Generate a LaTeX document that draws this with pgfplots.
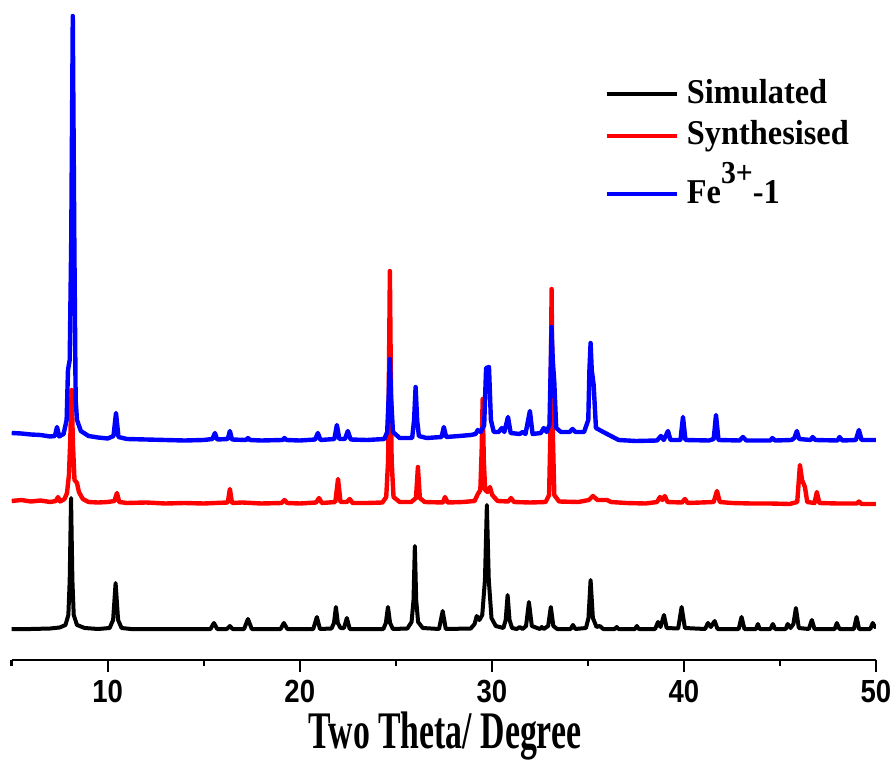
\documentclass[border=0pt]{standalone}
\usepackage{fontspec}
\usepackage{pgfplots}
\pgfplotsset{compat=1.18}
\setmainfont{Liberation Serif}
\newfontfamily\tickfont{Liberation Sans}[FakeStretch=0.86]
\newfontfamily\labfont{Liberation Serif}[FakeStretch=0.64]
\newfontfamily\legfont{Liberation Serif}[FakeStretch=0.93]
\definecolor{pblue}{RGB}{0,0,255}
\definecolor{pred}{RGB}{255,0,0}
\begin{document}
\begin{tikzpicture}
\useasboundingbox (-5.85pt,-53.5pt) rectangle (442.15pt,330pt);
\begin{axis}[
  scale only axis, width=432.15pt, height=330pt,
  xmin=5, xmax=50, ymin=0, ymax=660,
  axis x line*=bottom, axis y line=none,
  axis line style={-, line width=1.3pt, black},
  xtick={10,20,30,40,50}, minor xtick={5,15,25,35,45},
  tick align=outside, major tick length=6pt, minor tick length=3pt,
  every tick/.style={black, line width=1.2pt},
  /pgf/number format/assume math mode=true,
  xticklabel style={font=\tickfont\bfseries\fontsize{16}{16}\selectfont, inner sep=0pt, yshift=-4pt},
  xlabel={Two Theta/ Degree},
  xlabel style={at={(rel axis cs:0.5013,0)}, anchor=base, yshift=-44pt, inner sep=0pt, font=\labfont\bfseries\fontsize{26.4}{28}\selectfont},
  legend style={at={(rel axis cs:0.6864,0.880)}, anchor=north west, draw=none, fill=none, inner sep=0pt, outer sep=0pt,
    font=\legfont\bfseries\fontsize{17.4}{20}\selectfont,
    nodes={inner sep=0pt, text depth=4pt, anchor=base west}, row sep=4.6pt,
    /tikz/every odd column/.style={column sep=4pt}},
  legend cell align=left,
  legend image code/.code={\draw[#1, line width=2pt] (0pt,4.5pt) -- (35pt,4.5pt);},
  line join=round,
]
\addplot[black, line width=2pt] coordinates {
(5,31) (6,31) (7,31.5) (7.5,32.5) (7.8,35) (7.95,45) (8.02,80) (8.09,162) (8.16,80) (8.23,45) (8.4,35) (8.8,32) (9.5,31) (10.1,32) (10.28,40) (10.41,77) (10.54,40) (10.72,32) (11.2,31) (15.35,31) (15.53,37) (15.7,31) (16.2,31) (16.36,34) (16.5,31) (17.1,31) (17.3,41) (17.5,31) (19.0,31) (19.17,37) (19.35,31) (20.7,31) (20.89,43) (21.05,31) (21.65,31.5) (21.78,37) (21.88,53) (21.98,37) (22.12,32) (22.3,32) (22.45,42) (22.6,31) (24.35,31) (24.48,37) (24.59,53) (24.7,37) (24.85,31) (25.6,31.5) (25.82,38) (25.92,60) (25.99,114) (26.06,60) (26.16,38) (26.4,32) (27.25,31) (27.44,49) (27.6,31) (28.9,31.5) (29.1,36) (29.21,44) (29.35,40) (29.5,45) (29.64,80) (29.74,155) (29.84,80) (29.98,42) (30.2,34) (30.6,32) (30.72,40) (30.82,65) (30.92,40) (31.05,32) (31.3,31) (31.45,33) (31.6,31) (31.78,34) (31.93,58) (32.08,34) (32.5,31) (32.6,33) (32.7,31) (32.93,34) (33.07,53) (33.2,34) (33.4,31) (34.1,31) (34.22,35) (34.35,31) (34.9,32) (35.03,42) (35.14,80) (35.26,42) (35.45,33) (35.62,34) (35.8,31) (36.4,31) (36.5,33) (36.6,31) (37.45,31) (37.55,34) (37.65,31) (38.5,31) (38.65,38) (38.78,33) (38.96,45) (39.1,32) (39.7,31.5) (39.88,53) (40.05,32) (41.1,31) (41.25,37) (41.4,33) (41.6,39) (41.75,31) (42.85,31) (43.0,43) (43.15,31) (43.75,31) (43.85,36) (43.95,31) (44.5,31) (44.63,36) (44.75,31) (45.3,31) (45.4,36) (45.55,32) (45.7,36) (45.83,52) (45.98,32) (46.5,31) (46.66,40) (46.8,31) (47.85,31) (47.96,37) (48.1,31) (48.85,31) (48.99,43) (49.12,31) (49.7,31) (49.83,37) (49.95,33) (50,34)
};
\addlegendentry{Simulated}
\addplot[pred, line width=2.2pt] coordinates {
(5,159) (5.5,160) (6,158.5) (6.5,159.5) (7,158) (7.3,159) (7.41,163) (7.52,158.5) (7.75,161) (7.88,167) (7.98,185) (8.05,220) (8.12,270) (8.19,215) (8.27,180) (8.4,177) (8.5,168) (8.7,161) (9,158) (9.5,157.5) (10,158) (10.35,159) (10.48,167) (10.6,158) (11,157) (12,157.5) (13,156.5) (14,157) (15,156.5) (15.6,157) (16.25,157.5) (16.36,171) (16.47,157) (17,157.5) (18,156.5) (19.05,157) (19.2,160) (19.35,157) (20,156.5) (20.85,157.5) (21.0,162) (21.15,157) (21.85,158) (21.99,181) (22.12,158) (22.45,158) (22.6,161) (22.75,157) (23.5,157) (24.3,157.5) (24.5,163) (24.6,200) (24.69,389) (24.78,200) (24.88,163) (25.2,158) (25.8,158) (26.05,162) (26.15,193) (26.25,162) (26.5,158) (27.45,157.5) (27.56,163) (27.7,157.5) (28.5,158) (29.1,159) (29.27,166) (29.4,170) (29.47,210) (29.52,261) (29.58,200) (29.65,170) (29.78,168) (29.9,173) (30.02,165) (30.3,159) (30.85,158.5) (31.0,162) (31.15,158) (32,157.5) (32.8,158) (32.98,165) (33.05,230) (33.11,371) (33.17,230) (33.25,165) (33.5,158.5) (34.5,158) (35.05,160) (35.26,164) (35.5,160) (36.0,160) (36.2,158) (37,157) (38,156.5) (38.6,158) (38.75,163) (38.88,160) (39.0,164) (39.15,158) (39.9,157.5) (40.05,161) (40.2,157) (41.55,158) (41.72,169) (41.87,158) (42.5,157) (43.5,156.5) (44.5,156.5) (45.5,156) (45.9,158) (46.04,195) (46.15,180) (46.3,173) (46.42,158) (46.8,157) (46.92,168) (47.05,157) (48,156.5) (49.0,156.5) (49.11,158.5) (49.25,156) (50,156)
};
\addlegendentry{Synthesised}
\addplot[pblue, line width=2.2pt] coordinates {
(5,227) (5.5,226.5) (6,225.5) (6.5,225) (7,223.5) (7.25,224) (7.36,233) (7.47,223.5) (7.7,226) (7.86,240) (7.93,290) (8.02,300) (8.1,420) (8.18,644) (8.26,420) (8.33,260) (8.4,240) (8.6,229) (9,224) (9.5,222.5) (10.0,221.5) (10.3,224) (10.43,247) (10.56,223) (11,221) (12,220.5) (13,220) (14,219.5) (15,220) (15.45,221) (15.58,227) (15.7,220.5) (16.25,221) (16.36,229) (16.47,220.5) (17.2,220) (17.3,222) (17.4,220) (18,219.5) (19.1,220) (19.2,222) (19.3,220) (20,219.5) (20.8,220.5) (20.94,227) (21.08,220) (21.8,221) (21.93,235) (22.06,221) (22.35,221) (22.5,229) (22.65,220.5) (23.5,220) (24.4,221) (24.55,228) (24.62,260) (24.69,301) (24.76,260) (24.85,228) (25.2,222) (25.85,222) (25.95,240) (26.03,273) (26.11,240) (26.2,224) (26.6,222) (27.38,223) (27.5,233) (27.62,223) (28.3,224) (28.9,225) (29.15,226) (29.27,230) (29.42,228) (29.6,235) (29.7,292) (29.85,293) (29.95,240) (30.1,228) (30.35,228) (30.52,232) (30.65,228) (30.84,243) (30.98,227) (31.45,226) (31.6,228) (31.75,226) (31.98,249) (32.12,226) (32.55,227) (32.7,232) (32.85,228) (33.0,235) (33.06,290) (33.11,333) (33.17,300) (33.25,278) (33.35,232) (33.6,228) (34.05,228) (34.2,231) (34.35,228) (34.8,228) (35.02,240) (35.08,290) (35.14,317) (35.2,290) (35.3,275) (35.42,232) (35.8,228) (36.2,224) (36.6,220) (37.5,219) (38.6,219.5) (38.8,224) (38.95,220) (39.17,229) (39.3,220) (39.82,220) (39.95,243) (40.08,220) (41.3,219.5) (41.55,221) (41.67,245) (41.8,220) (42.9,219.5) (43.07,223) (43.25,219.5) (44.5,219.5) (44.6,222) (44.75,219.5) (45.6,220) (45.75,222) (45.88,229) (46.0,221) (46.6,220) (46.7,223) (46.85,220) (48.0,219.5) (48.1,223) (48.25,219.5) (48.95,220) (49.11,230) (49.25,220) (50,220)
};
\addlegendentry{Fe\raisebox{10pt}{\legfont\bfseries\fontsize{16}{16}\selectfont 3+}-1}
\end{axis}
\end{tikzpicture}
\end{document}
